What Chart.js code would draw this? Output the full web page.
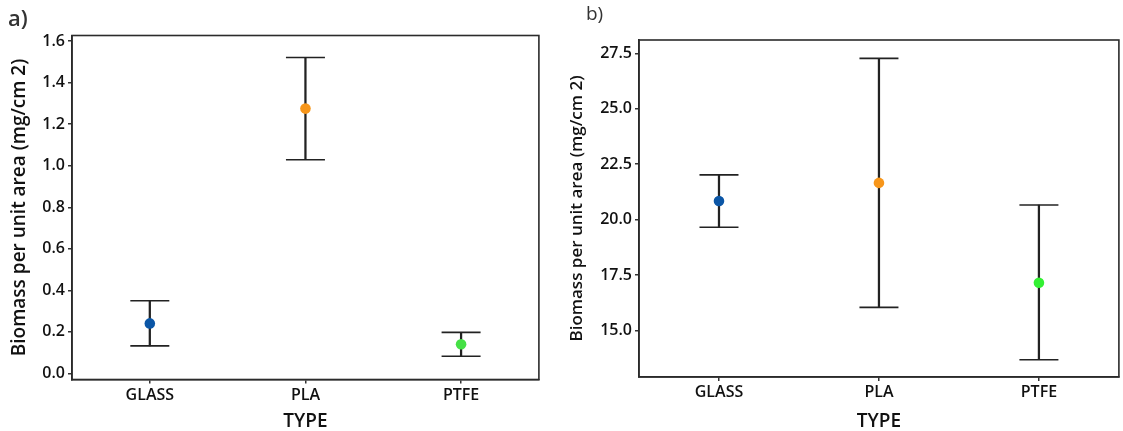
<!DOCTYPE html>
<html>
<head>
<meta charset="utf-8">
<script src="https://cdn.jsdelivr.net/npm/chart.js@4"></script>
<style>
  html, body { margin: 0; padding: 0; background: #fff; overflow: hidden; }
  body { width: 1123px; height: 431px; position: relative; }
  canvas { position: absolute; top: 0; }
  #chartA { left: 0; }
  #chartB { left: 560px; }
  .tag { position: absolute; font-family: "Open Sans", sans-serif; color: #333; }
  #tagA { left: 8px; top: 2px; font-size: 22px; font-weight: 600; }
  #tagB { left: 586px; top: 0px; font-size: 19px; font-weight: 500; }
</style>
</head>
<body>
<canvas id="chartA" width="560" height="431"></canvas>
<canvas id="chartB" width="580" height="431"></canvas>
<div class="tag" id="tagA">a)</div>
<div class="tag" id="tagB">b)</div>
<script>
  // data
  const categories = ["GLASS", "PLA", "PTFE"];
  const pointColorsA = ["#0b56a6", "#f7961a", "#45e045"];
  const pointColorsB = ["#0b56a6", "#f7961a", "#33f033"];

  const meanA = [0.241, 1.275, 0.141];
  const lowA  = [0.133, 1.029, 0.083];
  const highA = [0.350, 1.521, 0.198];
  const ticksA = [0.0, 0.2, 0.4, 0.6, 0.8, 1.0, 1.2, 1.4, 1.6];

  const meanB = [20.84, 21.66, 17.16];
  const lowB  = [19.66, 16.05, 13.69];
  const highB = [22.02, 27.27, 20.66];
  const ticksB = [15.0, 17.5, 20.0, 22.5, 25.0, 27.5];

  const INK = "#222";
  const FONT = "'Open Sans', sans-serif";
  const W = 600;

  // draws the closed panel frame around the plot area
  const frame = {
    id: "frame",
    afterDraw(chart) {
      const { ctx, chartArea: a } = chart;
      ctx.save();
      ctx.strokeStyle = "#2b2b2b";
      ctx.lineWidth = 1.6;
      ctx.strokeRect(a.left, a.top, a.right - a.left, a.bottom - a.top);
      ctx.restore();
    }
  };

  function makeChart(id, o) {
    return new Chart(document.getElementById(id), {
      type: "bar",
      data: {
        labels: categories,
        datasets: [
          { type: "line", data: o.mean, showLine: false, order: 0,
            pointStyle: "circle", pointRadius: 5.3, pointBorderWidth: 0,
            pointBackgroundColor: o.colors, pointBorderColor: o.colors },
          { type: "line", data: o.high, showLine: false, order: 1,
            pointStyle: "line", pointRadius: 19.5, borderWidth: 1.6, borderColor: INK },
          { type: "line", data: o.low, showLine: false, order: 1,
            pointStyle: "line", pointRadius: 19.5, borderWidth: 1.6, borderColor: INK },
          { type: "bar", data: o.low.map((v, i) => [v, o.high[i]]), order: 2,
            barThickness: 1.6, backgroundColor: INK, borderWidth: 0 }
        ]
      },
      options: {
        responsive: false,
        animation: false,
        events: [],
        layout: { padding: o.padding },
        plugins: { legend: { display: false }, tooltip: { enabled: false } },
        scales: {
          x: {
            offset: true,
            grid: { display: true, offset: false, drawOnChartArea: false, drawTicks: true, tickLength: 4, color: "#333", lineWidth: 1.5 },
            border: { display: true, color: "#2b2b2b", width: 1.6 },
            ticks: { color: "#111", font: { family: FONT, size: 16, weight: W }, padding: 2 },
            title: { display: true, text: "TYPE", color: "#111",
                     font: { family: FONT, size: 19, weight: W, lineHeight: 1 }, padding: { top: 0, bottom: 0 } },
            afterFit: s => { s.height = o.xHeight; }
          },
          y: {
            min: o.min, max: o.max,
            grid: { display: true, drawOnChartArea: false, drawTicks: true, tickLength: 4, color: "#333", lineWidth: 1.5 },
            border: { display: true, color: "#2b2b2b", width: 1.6 },
            ticks: { color: "#111", font: { family: FONT, size: 16, weight: W }, padding: 3,
                     callback: v => Number(v).toFixed(1) },
            afterBuildTicks: s => { s.ticks = o.ticks.map(v => ({ value: v })); },
            title: { display: true, text: "Biomass per unit area (mg/cm 2)", color: "#111",
                     font: { family: FONT, size: o.titleSize, weight: W, lineHeight: 1 }, padding: { top: o.titlePad, bottom: 0 } },
            afterFit: s => { s.width = o.yWidth; }
          }
        }
      },
      plugins: [frame]
    });
  }

  makeChart("chartA", {
    mean: meanA, low: lowA, high: highA, ticks: ticksA, colors: pointColorsA,
    min: -0.029, max: 1.627, titleSize: 19, titlePad: 10,
    padding: { left: 0, right: 17, top: 35.5, bottom: 0 },
    yWidth: 72, xHeight: 51.5
  });

  makeChart("chartB", {
    mean: meanB, low: lowB, high: highB, ticks: ticksB, colors: pointColorsB,
    min: 12.91, max: 28.1, titleSize: 17, titlePad: 9,
    padding: { left: 0, right: 9, top: 40, bottom: 0 },
    yWidth: 79, xHeight: 54
  });
</script>
</body>
</html>
